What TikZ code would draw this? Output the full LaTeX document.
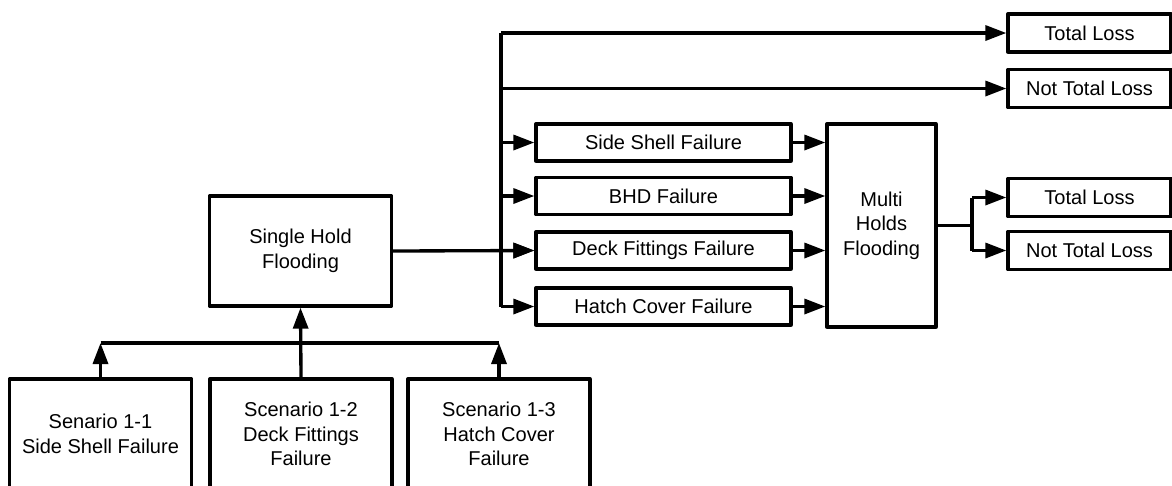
\documentclass[tikz,border=0pt]{standalone}
\usepackage{fontspec}
\setmainfont{Liberation Sans}
\usepackage{tikz}
\usetikzlibrary{arrows.meta}
\definecolor{flow black}{rgb}{0, 0, 0}

\begin{document}
\begin{tikzpicture}[x=0.02cm, y=-0.02cm,
		font=\fontsize{11.4}{14}\selectfont,
		box/.style={draw=flow black, line width=1.9pt, line join=round, inner sep=0pt, align=center},
		endbox/.style={box, minimum width=3.26cm, minimum height=0.76cm},
		failbox/.style={box, minimum width=5.1cm, minimum height=0.74cm},
		bigbox/.style={box, minimum width=3.64cm, minimum height=2.2cm},
		flow/.style={draw=flow black, line width=1.9pt},
		arr/.style={flow, -{Triangle[length=0.42cm, width=0.3cm]}}]
			\useasboundingbox (0, 0) rectangle (1172, 485);
			\clip (0, 0) rectangle (1172, 485);
			% outcomes
			\node[endbox] (total1) at (1089.5, 33) {Total Loss};
			\node[endbox] (ntl1) at (1089.5, 88.5) {Not Total Loss};
			\node[endbox] (total2) at (1089.5, 197.5) {Total Loss};
			\node[endbox] (ntl2) at (1089.5, 250.5) {Not Total Loss};
			% failures
			\node[failbox] (ssf) at (663.5, 142.5) {Side Shell Failure};
			\node[failbox] (bhd) at (663.5, 196) {BHD Failure};
			\node[failbox] (dff) at (663.5, 250.5) {Deck Fittings Failure};
			\node[failbox] (hcf) at (663.5, 306.5) {Hatch Cover Failure};
			\node[box, minimum width=2.18cm, minimum height=4.06cm] (multi) at (881.5, 225.5) {Multi\\Holds\\Flooding};
			% single hold and scenarios
			\node[bigbox] (single) at (300.5, 251) {Single Hold\\Flooding};
			\node[bigbox] (s1) at (100.5, 434) {Senario 1-1\\Side Shell Failure};
			\node[bigbox] (s2) at (301, 434) {Scenario 1-2\\Deck Fittings\\Failure};
			\node[bigbox] (s3) at (499, 434) {Scenario 1-3\\Hatch Cover\\Failure};
			% junction points
			\coordinate (trunktop) at (501, 33);
			\coordinate (split) at (972, 227);
			\coordinate (busl) at (100.5, 343);
			\coordinate (busr) at (499, 343);
			% trunk
			\draw[flow] (trunktop) -- (trunktop |- hcf.west);
			\draw[arr] (trunktop) -- (total1.west);
			\draw[arr] (trunktop |- ntl1.west) -- (ntl1.west);
			\foreach \f in {ssf, bhd, dff, hcf}
			{
				\draw[arr] (trunktop |- \f.west) -- (\f.west);
				\draw[arr] (\f.east) -- (\f.east -| multi.west);
			}
			\draw[arr] (single.east) -- (dff.west);
			% multi holds outcome
			\draw[flow] (multi.east) -- (multi.east -| split)
				(split |- total2.west) -- (split |- ntl2.west);
			\draw[arr] (split |- total2.west) -- (total2.west);
			\draw[arr] (split |- ntl2.west) -- (ntl2.west);
			% scenarios to single hold
			\draw[flow] (busl) -- (busr);
			\draw[arr] (s1.north) -- (busl);
			\draw[arr] (s3.north) -- (busr);
			\draw[arr] (s2.north) -- (single.south);
		\end{tikzpicture}
\end{document}
